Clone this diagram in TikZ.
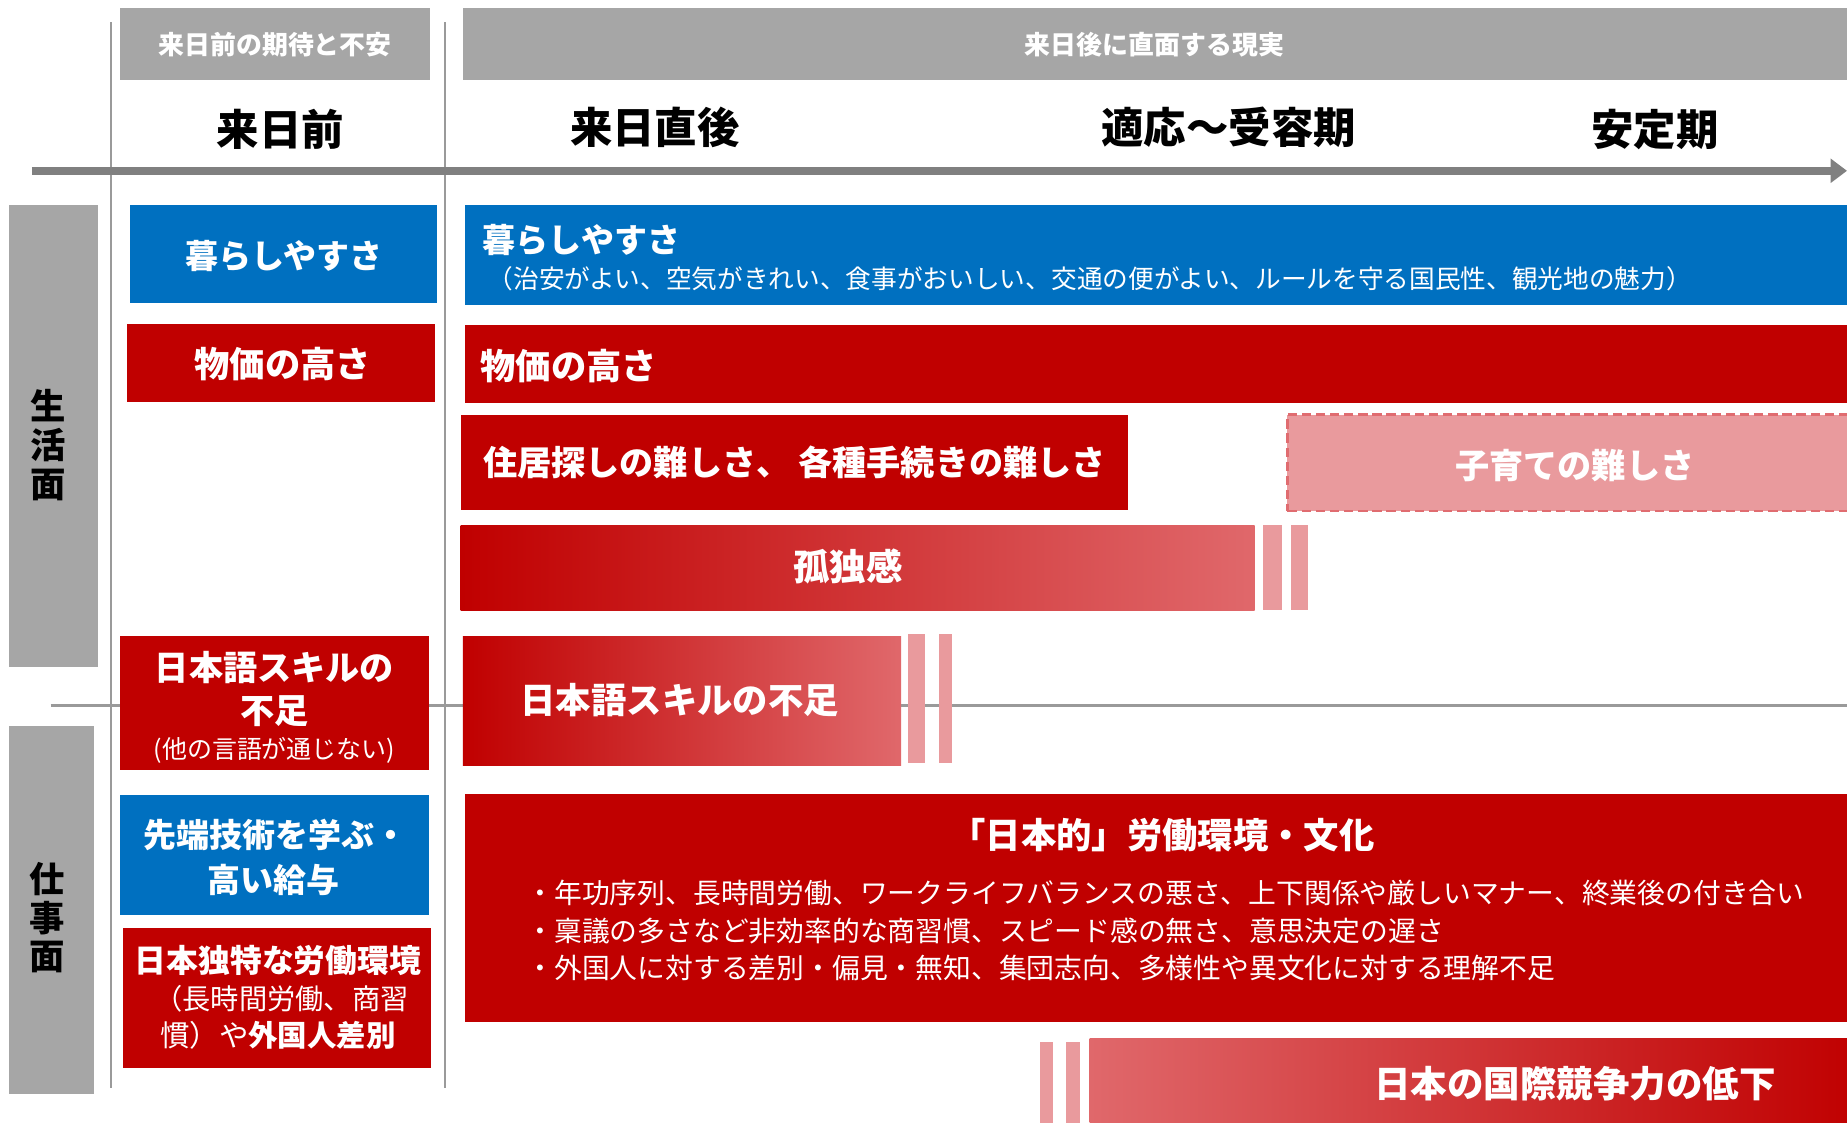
\documentclass[tikz,border=0pt]{standalone}
\usepackage{fontspec}
\setmainfont{Noto Sans CJK JP}
\usetikzlibrary{arrows.meta,fit}
\definecolor{hgray}{HTML}{A6A6A6}
\definecolor{agray}{HTML}{808080}
\definecolor{lgray}{HTML}{9A9A9A}
\definecolor{myred}{HTML}{C00000}
\definecolor{myblue}{HTML}{0070C0}
\definecolor{mypink}{HTML}{E99A9D}
\definecolor{mylight}{HTML}{E0686B}
\definecolor{mydash}{HTML}{E06C70}
\newcommand\myfs[2]{\fontsize{#1pt}{#2pt}\selectfont}
\begin{document}
\begin{tikzpicture}[x=0.5pt,y=-0.5pt,
  box/.style={inner sep=0pt, outer sep=0pt, draw=none},
  hdrbox/.style={box, fill=hgray},
  redbox/.style={box, fill=myred},
  bluebox/.style={box, fill=myblue},
  pinkbox/.style={box, fill=mypink, draw=mydash, dash pattern=on 4pt off 2pt, line width=1pt},
  stripe/.style={box, fill=mypink},
  gradbox/.style={box, left color=myred, right color=mylight},
  gradrev/.style={box, left color=mylight, right color=myred},
  wt/.style={text=white, inner sep=0pt, outer sep=0pt},
  bk/.style={text=black, inner sep=0pt, outer sep=0pt},
  vline/.style={draw=lgray, line width=1pt},
  timearrow/.style={draw=agray, line width=3.5pt, -{Triangle[length=7pt,width=10pt]}}
]
\useasboundingbox (0,0) rectangle (1568,953);
\fill[white] (0,0) rectangle (1568,953);

% grid lines
\coordinate (v1t) at (94,19); \coordinate (v1b) at (94,924);
\coordinate (v2t) at (378,19); \coordinate (v2b) at (378,924);
\coordinate (hl) at (43,599); \coordinate (hr) at (1580,599);
\draw[vline] (v1t) -- (v1b);
\draw[vline] (v2t) -- (v2b);
\draw[vline] (hl) -- (hr);

% headers
\node[hdrbox, fit={(102,7)(365,68)}] (h1) {};
\node[wt, font=\myfs{11}{13}\bfseries] (h1t) at (h1) {来日前の期待と不安};
\node[hdrbox, fit={(393,7)(1580,68)}] (h2) {};
\node[wt, font=\myfs{11}{13}\bfseries] (h2t) at (980,38) {来日後に直面する現実};

% column labels
\node[bk, font=\myfs{18}{20}\bfseries] (c1) at (238,110) {来日前};
\node[bk, font=\myfs{18}{20}\bfseries] (c2) at (556,108) {来日直後};
\node[bk, font=\myfs{18}{20}\bfseries] (c3) at (1043,108) {適応～受容期};
\node[bk, font=\myfs{18}{20}\bfseries] (c4) at (1405,110) {安定期};

% time arrow
\coordinate (as) at (27,145); \coordinate (ae) at (1568,145);
\draw[timearrow] (as) -- (ae);

% side labels
\node[hdrbox, fit={(8,174)(83,566)}] (life) {};
\node[bk, font=\myfs{15}{16.5}\bfseries, align=center] (lifet) at (41,378) {生\\活\\面};
\node[hdrbox, fit={(8,616)(80,929)}] (work) {};
\node[bk, font=\myfs{15}{16.5}\bfseries, align=center] (workt) at (40,779) {仕\\事\\面};

% left column
\node[bluebox, fit={(110,174)(371,257)}] (lk) {};
\node[wt, font=\myfs{14}{16}\bfseries] (lkt) at (241,217) {暮らしやすさ};
\node[redbox, fit={(108,275)(369,341)}] (lp) {};
\node[wt, font=\myfs{15}{17}\bfseries] (lpt) at (240,309) {物価の高さ};
\node[redbox, fit={(102,540)(364,654)}] (lj) {};
\node[wt, font=\myfs{14.5}{16}\bfseries] (lja) at (233,567) {日本語スキルの};
\node[wt, font=\myfs{14.5}{16}\bfseries] (ljb) at (233,604) {不足};
\node[wt, font=\myfs{10.6}{12}] (ljc) at (233,637) {(他の言語が通じない)};
\node[bluebox, fit={(102,675)(364,777)}] (ls) {};
\node[wt, font=\myfs{14}{16}\bfseries] (lsa) at (234,709) {先端技術を学ぶ・};
\node[wt, font=\myfs{14}{16}\bfseries] (lsb) at (232,747) {高い給与};
\node[redbox, fit={(104,788)(366,907)}] (lw) {};
\node[wt, font=\myfs{13.5}{16}\bfseries] (lwa) at (236,815) {日本独特な労働環境};
\node[wt, font=\myfs{12}{14}] (lwb) at (239,848) {（長時間労働、商習};
\node[wt, font=\myfs{12.5}{14}] (lwc) at (236,879) {慣）や\textbf{外国人差別}};

% right: living
\node[bluebox, fit={(395,174)(1580,259)}] (rk) {};
\node[wt, font=\myfs{14}{16}\bfseries, anchor=west] (rkt) at (410,204) {暮らしやすさ};
\node[wt, font=\myfs{10.9}{13}, anchor=west] (rks) at (414,237) {（治安がよい、空気がきれい、食事がおいしい、交通の便がよい、ルールを守る国民性、観光地の魅力）};
\node[redbox, fit={(395,276)(1580,342)}] (rp) {};
\node[wt, font=\myfs{15}{17}\bfseries, anchor=west] (rpt) at (408,311) {物価の高さ};
\node[redbox, fit={(391,352)(958,433)}] (rh) {};
\node[wt, font=\myfs{14.5}{16}\bfseries] (rht) at (rh) {住居探しの難しさ、 各種手続きの難しさ};
\node[pinkbox, fit={(1093,352)(1590,434)}] (rc) {};
\node[wt, font=\myfs{14.5}{16}\bfseries] (rct) at (1337,395) {子育ての難しさ};
\node[gradbox, fit={(391,446)(1065,518)}] (rl) {};
\node[wt, font=\myfs{15.5}{17}\bfseries] (rlt) at (720,481) {孤独感};
\node[stripe, fit={(1072,446)(1088,518)}] (rls1) {};
\node[stripe, fit={(1096,446)(1110,518)}] (rls2) {};

% right: work
\node[gradbox, fit={(393,540)(765,650)}] (rj) {};
\node[wt, font=\myfs{15}{17}\bfseries] (rjt) at (577,594) {日本語スキルの不足};
\node[stripe, fit={(771,538)(785,648)}] (rjs1) {};
\node[stripe, fit={(797,538)(808,648)}] (rjs2) {};
\node[redbox, fit={(395,674)(1580,868)}] (rw) {};
\node[wt, font=\myfs{15}{17}\bfseries] (rwt) at (987,709) {「日本的」労働環境・文化};
\node[wt, font=\myfs{11.8}{13}, anchor=west] (rw1) at (447,758) {・年功序列、長時間労働、ワークライフバランスの悪さ、上下関係や厳しいマナー、終業後の付き合い};
\node[wt, font=\myfs{11.8}{13}, anchor=west] (rw2) at (447,790) {・稟議の多さなど非効率的な商習慣、スピード感の無さ、意思決定の遅さ};
\node[wt, font=\myfs{11.8}{13}, anchor=west] (rw3) at (447,822) {・外国人に対する差別・偏見・無知、集団志向、多様性や異文化に対する理解不足};
\node[stripe, fit={(883,885)(894,960)}] (rgs1) {};
\node[stripe, fit={(905,885)(917,960)}] (rgs2) {};
\node[gradrev, fit={(925,882)(1580,960)}] (rg) {};
\node[wt, font=\myfs{15.5}{17}\bfseries] (rgt) at (1337,920) {日本の国際競争力の低下};
\end{tikzpicture}
\end{document}
